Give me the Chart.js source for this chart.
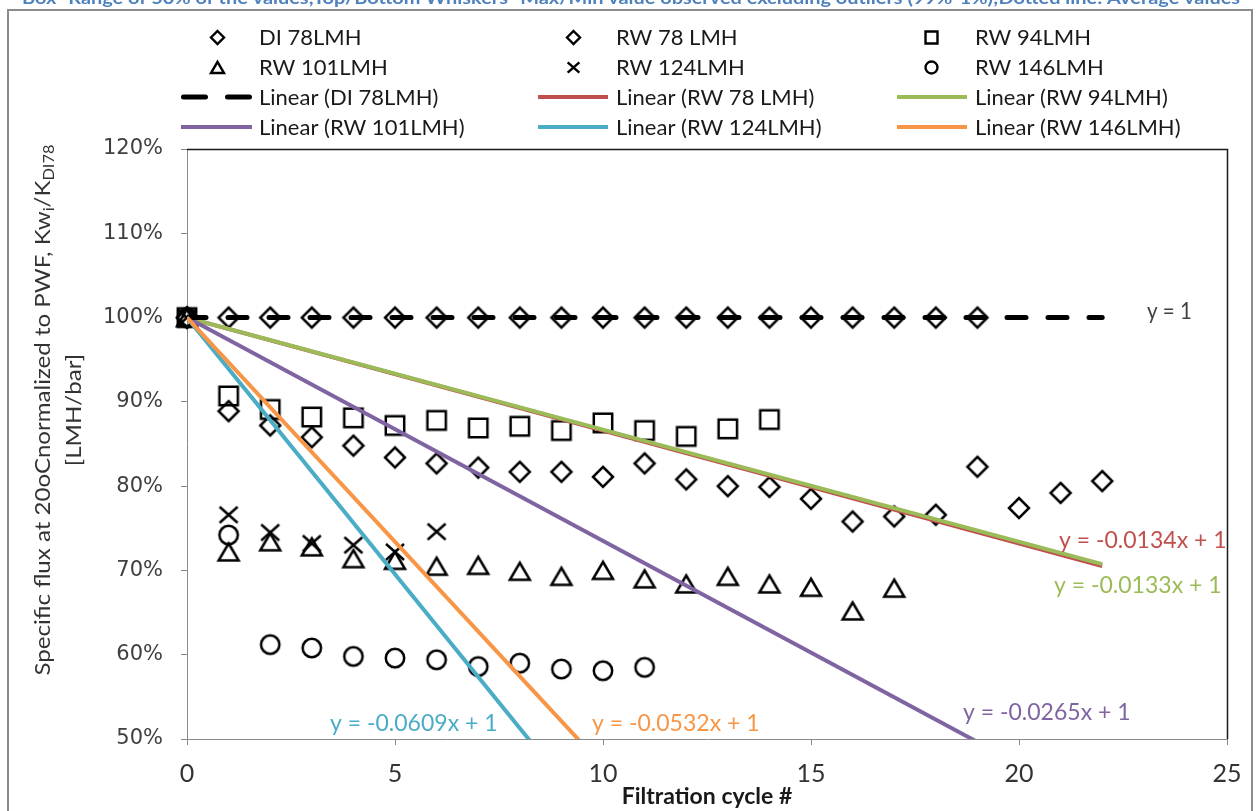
<!DOCTYPE html>
<html>
<head>
<meta charset="utf-8">
<script src="https://cdn.jsdelivr.net/npm/chart.js@4.4.1/dist/chart.umd.min.js"></script>
<style>
  html, body { margin: 0; padding: 0; background: #ffffff; }
  #wrap { position: relative; width: 1257px; height: 811px; }
  canvas { display: block; }
</style>
</head>
<body>
<div id="wrap"><canvas id="flux" width="1257" height="811"></canvas></div>
<script>
// ---- data: normalised specific flux (1 = 100 %) per filtration cycle ----
const cyclesDI78  = [0, 1, 2, 3, 4, 5, 6, 7, 8, 9, 10, 11, 12, 13, 14, 15, 16, 17, 18, 19];
const fluxDI78    = [1, 1, 1, 1, 1, 1, 1, 1, 1, 1, 1, 1, 1, 1, 1, 1, 1, 1, 1, 1];

const cyclesRW78  = [0, 1, 2, 3, 4, 5, 6, 7, 8, 9, 10, 11, 12, 13, 14, 15, 16, 17, 18, 19, 20, 21, 22];
const fluxRW78    = [1, 0.889, 0.872, 0.858, 0.848, 0.834, 0.827, 0.822, 0.817, 0.817, 0.811, 0.827,
                     0.808, 0.800, 0.799, 0.785, 0.758, 0.764, 0.766, 0.823, 0.774, 0.792, 0.806];

const cyclesRW94  = [0, 1, 2, 3, 4, 5, 6, 7, 8, 9, 10, 11, 12, 13, 14];
const fluxRW94    = [1, 0.907, 0.891, 0.882, 0.881, 0.872, 0.878, 0.869, 0.871, 0.866, 0.875, 0.866,
                     0.859, 0.868, 0.879];

const cyclesRW101 = [0, 1, 2, 3, 4, 5, 6, 7, 8, 9, 10, 11, 12, 13, 14, 15, 16, 17];
const fluxRW101   = [1, 0.722, 0.734, 0.728, 0.714, 0.712, 0.705, 0.706, 0.699, 0.693, 0.700, 0.690,
                     0.684, 0.693, 0.684, 0.680, 0.652, 0.679];

const cyclesRW124 = [0, 1, 2, 3, 4, 5, 6];
const fluxRW124   = [1, 0.766, 0.745, 0.732, 0.730, 0.722, 0.746];

const cyclesRW146 = [0, 1, 2, 3, 4, 5, 6, 7, 8, 9, 10, 11];
const fluxRW146   = [1, 0.742, 0.612, 0.608, 0.598, 0.596, 0.594, 0.586, 0.590, 0.583, 0.581, 0.585];

// linear fits forced through (0, 1): y = slope * x + 1
const trendSlopes = [0, -0.0134, -0.0133, -0.0265, -0.0609, -0.0532];
const trendEndCycle = 22;

const seriesNames = ['DI 78LMH', 'RW 78 LMH', 'RW 94LMH', 'RW 101LMH', 'RW 124LMH', 'RW 146LMH'];
const trendNames  = ['Linear (DI 78LMH)', 'Linear (RW 78 LMH)', 'Linear (RW 94LMH)',
                     'Linear (RW 101LMH)', 'Linear (RW 124LMH)', 'Linear (RW 146LMH)'];

const yTicks = [0.5, 0.6, 0.7, 0.8, 0.9, 1.0, 1.1, 1.2];
const xTicks = [0, 5, 10, 15, 20, 25];

// ---- styling ----
const TEXT_FONT   = "Lato, 'Open Sans', sans-serif";
const NARROW_FONT = "'Liberation Sans Narrow', 'Arial Narrow', Lato, sans-serif";
const TICK_FONT   = "'DejaVu Sans', Verdana, sans-serif";
const markerShapes = ['diamond', 'diamond', 'square', 'triangle', 'cross', 'circle'];
const trendColours = ['#000000', '#c0504d', '#9bbb59', '#8064a2', '#4bacc6', '#f79646'];
const trendOrder   = [3, 6, 5, 4, 2, 1];   // smaller = drawn on top
const equationColours = ['#404040', '#c0504d', '#9bbb59', '#8064a2', '#4bacc6', '#f79646'];

function markerCanvas(shape, size, lw) {
  const pad = Math.ceil(lw) + 2;
  const dim = Math.round(size + pad * 2);
  const cv = document.createElement('canvas');
  cv.width = dim; cv.height = dim;
  const g = cv.getContext('2d');
  const c = dim / 2, h = size / 2;
  g.strokeStyle = '#000';
  g.lineWidth = lw;
  g.lineJoin = 'miter';
  g.beginPath();
  switch (shape) {
    case 'diamond':
      g.moveTo(c, c - h); g.lineTo(c + h, c); g.lineTo(c, c + h); g.lineTo(c - h, c); g.closePath();
      break;
    case 'square':
      g.rect(c - h * 0.92, c - h * 0.92, size * 0.92, size * 0.92);
      break;
    case 'triangle':
      g.moveTo(c, c - h * 0.85); g.lineTo(c + h, c + h * 0.85); g.lineTo(c - h, c + h * 0.85); g.closePath();
      break;
    case 'cross':
      g.moveTo(c - h * 0.9, c - h * 0.8); g.lineTo(c + h * 0.9, c + h * 0.8);
      g.moveTo(c + h * 0.9, c - h * 0.8); g.lineTo(c - h * 0.9, c + h * 0.8);
      break;
    case 'circle':
      g.arc(c, c, h * 0.92, 0, Math.PI * 2);
      break;
  }
  g.stroke();
  return cv;
}

const plotMarkers   = markerShapes.map(s => markerCanvas(s, 20, 2.5));
const legendMarkers = markerShapes.map(s => markerCanvas(s, 13, 2.4));

const seriesCycles = [cyclesDI78, cyclesRW78, cyclesRW94, cyclesRW101, cyclesRW124, cyclesRW146];
const seriesFlux   = [fluxDI78, fluxRW78, fluxRW94, fluxRW101, fluxRW124, fluxRW146];

const pointSets = seriesNames.map((name, i) => ({
  label: name,
  type: 'scatter',
  data: seriesCycles[i].map((c, k) => ({ x: c, y: seriesFlux[i][k] })),
  pointStyle: plotMarkers[i],
  pointRadius: 10,
  showLine: false,
  clip: false,
  order: 10
}));

const trendSets = trendNames.map((name, i) => ({
  label: name,
  type: 'scatter',
  data: [{ x: 0, y: 1 }, { x: trendEndCycle, y: 1 + trendSlopes[i] * trendEndCycle }],
  showLine: true,
  borderColor: trendColours[i],
  backgroundColor: trendColours[i],
  borderWidth: i === 0 ? 5 : 4,
  borderDash: i === 0 ? [19, 22] : [],
  borderCapStyle: i === 0 ? 'round' : 'butt',
  pointRadius: 0,
  pointHoverRadius: 0,
  clip: 0,
  order: trendOrder[i]
}));

function equationText(slope) {
  return slope === 0 ? 'y = 1' : 'y = ' + slope + 'x + 1';
}

// label anchors (left edge, vertical centre)
const equationAnchors = [[1147, 312], [1059, 541], [1054, 586], [963, 713], [330, 724], [592, 724]];

// legend grid: three columns, four rows
const legendCols = [
  { marker: 217, lineFrom: 181, lineTo: 252, text: 259 },
  { marker: 573, lineFrom: 538, lineTo: 608, text: 616 },
  { marker: 931, lineFrom: 897, lineTo: 967, text: 975 }
];
const legendRows = [37, 67, 97, 127];

const decorations = {
  id: 'decorations',
  beforeDraw(chart) {
    const ctx = chart.ctx;
    ctx.save();
    ctx.fillStyle = '#ffffff';
    ctx.fillRect(0, 0, chart.width, chart.height);

    // caption strip running off the top edge
    const cap = 'Box- Range of 50% of the values;Top/Bottom Whiskers- Max/Min value observed excluding outliers (99%-1%);Dotted line: Average values';
    ctx.font = `bold 17px ${TEXT_FONT}`;
    const cw = ctx.measureText(cap).width;
    ctx.translate(22, 4);
    ctx.scale(1218 / cw, 1);
    ctx.fillStyle = '#4f81bd';
    ctx.textBaseline = 'alphabetic';
    ctx.fillText(cap, 0, 0);
    ctx.restore();

    // outer frame
    ctx.save();
    ctx.strokeStyle = '#8c8c8c';
    ctx.lineWidth = 2;
    ctx.strokeRect(8, 10, 1244, 830);
    ctx.restore();
  },
  afterDraw(chart) {
    const ctx = chart.ctx;
    const a = chart.chartArea;

    // plot frame top and right edges
    ctx.save();
    ctx.strokeStyle = '#1a1a1a';
    ctx.lineWidth = 1.5;
    ctx.beginPath();
    ctx.moveTo(a.left, a.top + 0.5);
    ctx.lineTo(a.right + 0.5, a.top + 0.5);
    ctx.lineTo(a.right + 0.5, a.bottom);
    ctx.stroke();
    ctx.restore();

    // equation labels
    ctx.save();
    ctx.font = `23px ${TEXT_FONT}`;
    ctx.textBaseline = 'middle';
    ctx.textAlign = 'left';
    trendSlopes.forEach((s, i) => {
      ctx.fillStyle = equationColours[i];
      const t = equationText(s);
      const tw = ctx.measureText(t).width;
      const target = s === 0 ? 45 : 168;
      ctx.save();
      ctx.translate(equationAnchors[i][0], equationAnchors[i][1]);
      ctx.scale(Math.min(1, target / tw), 1);
      ctx.fillText(t, 0, 0);
      ctx.restore();
    });
    ctx.restore();

    // legend
    ctx.save();
    ctx.font = `22px ${TEXT_FONT}`;
    ctx.textBaseline = 'middle';
    ctx.fillStyle = '#1a1a1a';
    const items = [];
    pointSets.forEach((d, i) => items.push({ kind: 'marker', idx: i, label: d.label }));
    trendSets.forEach((d, i) => items.push({ kind: 'line', idx: i, label: d.label }));
    items.forEach((it, n) => {
      const col = legendCols[n % 3];
      const y = legendRows[Math.floor(n / 3)];
      if (it.kind === 'marker') {
        const m = legendMarkers[it.idx];
        ctx.drawImage(m, Math.round(col.marker - m.width / 2), Math.round(y - m.height / 2));
      } else {
        const ds = trendSets[it.idx];
        ctx.save();
        ctx.strokeStyle = ds.borderColor;
        ctx.lineWidth = ds.borderWidth;
        ctx.lineCap = ds.borderCapStyle;
        if (it.idx === 0) {
          ctx.setLineDash([22, 22]);
          ctx.beginPath();
          ctx.moveTo(col.lineFrom + 2.5, y);
          ctx.lineTo(col.lineTo - 2.5, y);
        } else {
          ctx.beginPath();
          ctx.moveTo(col.lineFrom, y);
          ctx.lineTo(col.lineTo, y);
        }
        ctx.stroke();
        ctx.restore();
      }
      ctx.fillText(it.label, col.text, y + 1);
    });
    ctx.restore();

    // y-axis title with subscripts
    ctx.save();
    const parts = [['Specific flux at 20oCnormalized to PWF, Kw', false], ['i', true], ['/K', false], ['DI78', true]];
    const mainFont = `22px ${TEXT_FONT}`, subFont = `15px ${TEXT_FONT}`;
    let w = 0;
    parts.forEach(p => { ctx.font = p[1] ? subFont : mainFont; w += ctx.measureText(p[0]).width; });
    const sc = 531 / w;
    ctx.fillStyle = '#333333';
    ctx.textBaseline = 'middle';
    ctx.translate(43, 410);
    ctx.rotate(-Math.PI / 2);
    ctx.scale(sc, 1);
    let x = -w / 2;
    parts.forEach(p => {
      ctx.font = p[1] ? subFont : mainFont;
      ctx.fillText(p[0], x, p[1] ? 6 : 0);
      x += ctx.measureText(p[0]).width;
    });
    ctx.restore();

    ctx.save();
    ctx.fillStyle = '#333333';
    ctx.font = `22px ${TEXT_FONT}`;
    ctx.textBaseline = 'middle';
    ctx.textAlign = 'center';
    ctx.translate(74, 410);
    ctx.rotate(-Math.PI / 2);
    ctx.scale(sc, 1);
    ctx.fillText('[LMH/bar]', 0, 0);
    ctx.restore();

    // x-axis title
    ctx.save();
    ctx.fillStyle = '#1a1a1a';
    ctx.font = `bold 23px ${NARROW_FONT}`;
    ctx.textAlign = 'center';
    ctx.textBaseline = 'middle';
    ctx.fillText('Filtration cycle #', 707, 797);
    ctx.restore();
  }
};

new Chart(document.getElementById('flux'), {
  type: 'scatter',
  data: { datasets: [...trendSets, ...pointSets] },
  options: {
    responsive: false,
    animation: false,
    devicePixelRatio: 1,
    events: [],
    layout: { padding: { top: 149, right: 30, left: 0, bottom: 0 } },
    plugins: { legend: { display: false }, tooltip: { enabled: false }, title: { display: false } },
    scales: {
      x: {
        type: 'linear',
        min: 0, max: 25,
        afterFit(scale) { scale.height = 72; },
        afterBuildTicks(scale) { scale.ticks = xTicks.map(v => ({ value: v })); },
        border: { color: '#8a8a8a', width: 1 },
        grid: { drawOnChartArea: false, drawTicks: true, tickLength: 6, color: '#8a8a8a' },
        ticks: {
          padding: 14,
          color: '#333333',
          font: { family: NARROW_FONT, size: 25 },
          maxRotation: 0,
          callback: v => String(v)
        }
      },
      y: {
        type: 'linear',
        min: 0.5, max: 1.2,
        afterFit(scale) { scale.width = 187; },
        afterBuildTicks(scale) { scale.ticks = yTicks.map(v => ({ value: v })); },
        border: { color: '#8a8a8a', width: 1 },
        grid: { drawOnChartArea: false, drawTicks: true, tickLength: 6, color: '#8a8a8a' },
        ticks: {
          padding: 18,
          color: '#404040',
          font: { family: TICK_FONT, size: 21 },
          callback: v => Math.round(v * 100) + '%'
        }
      }
    }
  },
  plugins: [decorations]
});
</script>
</body>
</html>
